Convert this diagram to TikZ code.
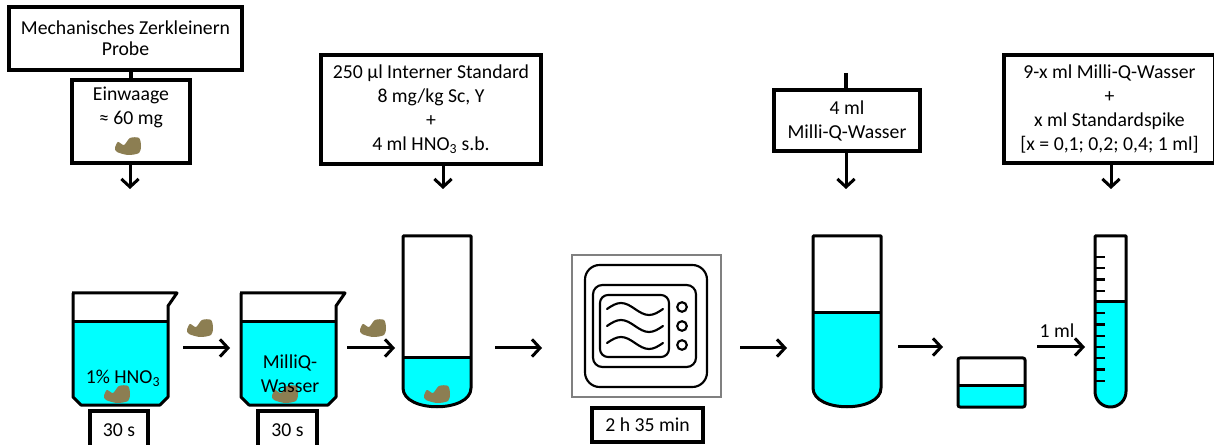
\documentclass[tikz,border=0pt]{standalone}
\usepackage{fontspec}
\setmainfont{Carlito}
\usetikzlibrary{arrows.meta}

\definecolor{liquid}{RGB}{0,255,255}
\definecolor{sample}{RGB}{140,126,82}

\tikzset{
	stepbox/.style = {draw, line width=2.4pt, fill=white, align=center, inner sep=0pt},
	flow/.style = {line width=2.25pt, -{Straight Barb[length=6pt, width=13pt]}},
	vessel/.style = {line width=2.25pt, line join=round},
	thin line/.style = {line width=1.6pt},
}

% piece of sample material
\newcommand{\nugget}[1]{%
	\fill[sample, shift={(#1)}] plot[smooth cycle] coordinates
		{(-13,2) (-10,-4) (-4,-1) (2,-8) (11,-8) (13,0) (11,7) (0,9) (-11,6)};}

% beaker with liquid, left rim corner at #1
\newcommand{\beaker}[1]{%
	\begin{scope}[shift={(#1)}]
		\fill[liquid] (1,29) -- (96,29) -- (96,104) -- (88,112) -- (9,112) -- (1,104) -- cycle;
		\draw[vessel] (1,29) -- (96,29);
		\draw[vessel] (0,0) -- (105,0) -- (96,13) -- (96,104) -- (88,112) -- (9,112) -- (1,104) -- (1,0);
	\end{scope}}

% digestion tube, left wall at #1, liquid level at #2
\newcommand{\vial}[2]{%
	\begin{scope}[shift={(#1,0)}]
		\fill[liquid] (0,#2) -- (68,#2) -- (68,388) .. controls (68,413) and (0,413) .. (0,388) -- cycle;
		\draw[vessel] (0,#2) -- (68,#2);
		\draw[vessel] (0,236) -- (68,236) -- (68,388) .. controls (68,413) and (0,413) .. (0,388) -- cycle;
	\end{scope}}

\begin{document}
\begin{tikzpicture}[x=0.75pt, y=-0.75pt,
	every node/.style={font=\fontsize{14.8pt}{18pt}\selectfont}]
	\clip (0,0) rectangle (1214,445);
	\useasboundingbox (0,0) rectangle (1214,445);

	% additions from above
	\node[stepbox, minimum width=174.75pt, minimum height=47.25pt] (zerkl) at (125.5,38.5)
		{Mechanisches Zerkleinern\\[-2pt]Probe};
	\node[stepbox, minimum width=88.5pt, minimum height=62.25pt] (einwaage) at (131,121.5)
		{Einwaage\\≈ 60 mg\\\strut};
	\nugget{128,146}
	\draw[line width=2.4pt] (einwaage.north) -- (einwaage.north |- zerkl.south);

	\node[stepbox, minimum width=165pt, minimum height=81.75pt] (standard) at (431,109.5)
		{250 µl Interner Standard\\8 mg/kg Sc, Y\\+\\4 ml HNO\textsubscript{3} s.b.};

	\coordinate (wassertop) at (846,73);
	\node[stepbox, minimum width=109.5pt, minimum height=45.75pt] (wasser) at (847,120.5)
		{4 ml\\Milli-Q-Wasser};
	\draw[line width=2.4pt] (wassertop) -- (wassertop |- wasser.north);

	\node[stepbox, minimum width=158.25pt, minimum height=81pt] (spike) at (1109.5,109)
		{9-x ml Milli-Q-Wasser\\+\\x ml Standardspike\\{[x = 0,1; 0,2; 0,4; 1 ml]}};

	\coordinate (inA) at (130,189);
	\coordinate (inB) at (443,189);
	\coordinate (inC) at (846,189);
	\coordinate (inD) at (1111,189);
	\draw[flow] (inA |- einwaage.south) -- (inA);
	\draw[flow] (inB |- standard.south) -- (inB);
	\draw[flow] (inC |- wasser.south) -- (inC);
	\draw[flow] (inD |- spike.south) -- (inD);

	% washing steps
	\beaker{72,293}
	\nugget{117,394}
	\node (acid) at (123,378) {1\% HNO\textsubscript{3}};
	\beaker{240,293}
	\nugget{285,394}
	\node[align=center] (rinse) at (290,374) {MilliQ-\\Wasser};
	\node[stepbox, minimum width=43.5pt, minimum height=28.5pt] (timeA) at (119,430) {30 s};
	\node[stepbox, minimum width=44.25pt, minimum height=28.5pt] (timeB) at (287.5,430) {30 s};

	% digestion tube
	\vial{403}{358}
	\nugget{437,394}

	% microwave
	\draw[gray, line width=1.2pt] (572,255) rectangle (721,397);
	\draw[thin line, rounded corners=11pt] (585,265) rectangle (707,387);
	\draw[thin line, rounded corners=7pt] (593,285) rectangle (696,367);
	\draw[thin line, rounded corners=6pt] (600,295) rectangle (669,357);
	\foreach \y in {309,326,343}
		\draw[thin line, line cap=round] (607,\y) sin (621,\y-6) cos (635,\y) sin (649,\y+6) cos (663,\y);
	\foreach \y in {307,326,345}
		\draw[thin line] (682,\y) circle [radius=3.6pt];
	\node[stepbox, minimum width=83.25pt, minimum height=25.5pt] (timeC) at (647.5,425) {2 h 35 min};

	% diluted digest
	\vial{813}{313}

	% aliquot
	\fill[liquid] (958,385) rectangle (1025,407);
	\draw[vessel] (958,385) -- (1025,385);
	\draw[vessel, rounded corners=1.5pt] (958,358) rectangle (1025,407);

	% graduated tube
	\fill[liquid] (1095,302) -- (1126,302) -- (1126,391.5) arc [start angle=0, end angle=-180, radius=11.625pt] -- cycle;
	\foreach \k in {0,...,11}
		\draw[thin line] (1096,257+11.25*\k) -- (1105,257+11.25*\k);
	\draw[vessel] (1095,302) -- (1126,302);
	\draw[vessel] (1095,236) -- (1126,236) -- (1126,391.5) arc [start angle=0, end angle=-180, radius=11.625pt] -- cycle;

	% process arrows
	\foreach \n/\a/\b/\y in {1/183/230/348, 2/347/395/348, 3/495/542/348, 4/740/787/348, 5/898/943/347, 6/1037/1085/347} {
		\coordinate (from\n) at (\a,\y);
		\coordinate (to\n) at (\b,\y);
		\draw[flow] (from\n) -- (to\n);
	}
	\nugget{200,328}
	\nugget{373,328}
	\node (aliquot) at (1057,331) {1 ml};
\end{tikzpicture}
\end{document}
